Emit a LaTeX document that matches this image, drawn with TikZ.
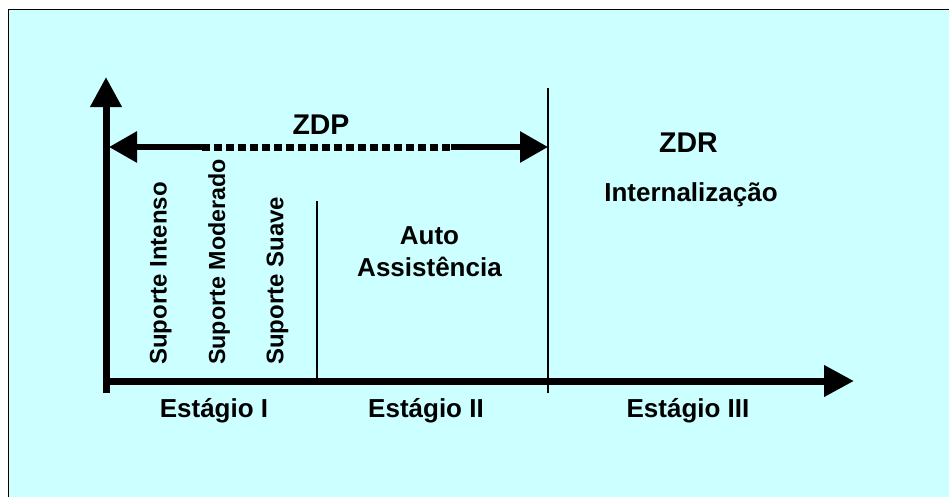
\documentclass[tikz,border=0pt]{standalone}
\usepackage{fontspec}
\setmainfont{Liberation Sans}[BoldFont={Liberation Sans Bold}]
\usetikzlibrary{arrows.meta}
\definecolor{bgcyan}{HTML}{CCFFFF}
\tikzset{
  lbl/.style={inner sep=0pt, font=\bfseries\fontsize{26}{32}\selectfont, anchor=base, align=center},
  head/.style={inner sep=0pt, font=\bfseries\fontsize{28.5}{34}\selectfont, anchor=base},
  vlbl/.style={inner sep=0pt, font=\bfseries\fontsize{24}{29}\selectfont, rotate=90, anchor=base west},
  axis/.style={line width=7pt, -{Triangle[length=30pt,width=30pt]}},
  zarrow/.style={line width=6pt, -{Triangle[length=28pt,width=30pt]}},
  zdots/.style={line width=7pt, dash pattern=on 7.5pt off 4.5pt},
  thin/.style={line width=1.8pt}
}
\begin{document}
\begin{tikzpicture}[x=1pt,y=-1pt]
\useasboundingbox (0,0) rectangle (949,496);
\clip (0,0) rectangle (949,496);
\fill[white] (0,0) rectangle (949,496);
\draw[fill=bgcyan, line width=1.2pt] (8.5,9.5) rectangle (970,520);

% axes
\coordinate (origin) at (106,393);
\coordinate (ytip) at (106,77);
\coordinate (xstart) at (102.5,381);
\coordinate (xtip) at (854,381);
\draw[axis] (origin) -- (ytip);
\draw[axis] (xstart) -- (xtip);

% stage separators
\coordinate (s2top) at (317,201);
\coordinate (s2bot) at (317,384);
\coordinate (s3top) at (548,88);
\coordinate (s3bot) at (548,393);
\draw[thin] (s2top) -- (s2bot);
\draw[thin] (s3top) -- (s3bot);

% ZDP arrow
\coordinate (zl) at (109,147);
\coordinate (zdl) at (202,147);
\coordinate (zdr) at (451,147);
\coordinate (zr) at (548,147);
\draw[zarrow] (zdl) -- (zl);
\draw[zdots] (zdl) -- (zdr);
\draw[zarrow] (zdr) -- (zr);

% labels
\node[head] (zdp) at (321,134) {ZDP};
\node[head] (zdr) at (688.5,152.3) {ZDR};
\node[lbl] (intern) at (691,201.7) {Internaliza\c{c}\~ao};
\node[lbl] (auto) at (429.5,244) {Auto};
\node[lbl] (assist) at (429.5,276) {Assist\^encia};

\node[vlbl] (sint) at (166.7,365) {Suporte Intenso};
\node[vlbl, font=\bfseries\fontsize{23.3}{28}\selectfont] (smod) at (225,365) {Suporte Moderado};
\node[vlbl] (ssua) at (283.3,365) {Suporte Suave};

\node[lbl] (e1) at (214,417) {Est\'agio I};
\node[lbl] (e2) at (426,417) {Est\'agio II};
\node[lbl] (e3) at (688,417.5) {Est\'agio III};
\end{tikzpicture}
\end{document}
